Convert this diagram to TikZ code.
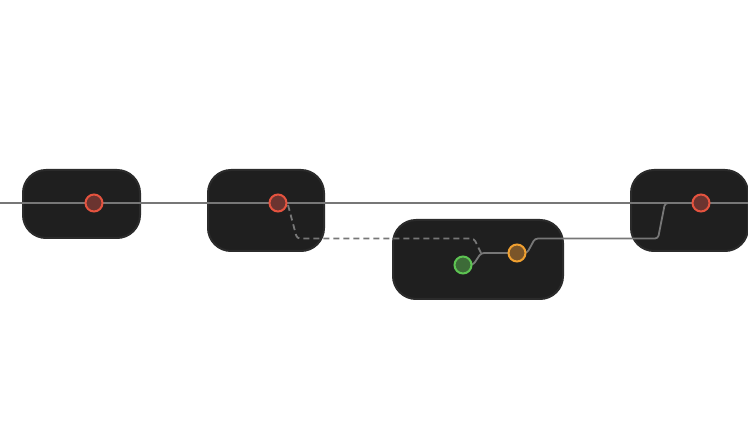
\documentclass[tikz,border=0pt]{standalone}
\pgfdeclarelayer{bg}\pgfdeclarelayer{mid}
\pgfsetlayers{bg,mid,main}
\definecolor{boxfill}{HTML}{1F1F1F}
\definecolor{boxline}{HTML}{2B2B2B}
\definecolor{wire}{HTML}{777777}
\definecolor{redS}{HTML}{E5533F}
\definecolor{redF}{HTML}{6B3430}
\definecolor{grnS}{HTML}{5DC452}
\definecolor{grnF}{HTML}{3D6B38}
\definecolor{orgS}{HTML}{F0A030}
\definecolor{orgF}{HTML}{7A5529}
\tikzset{
  panel/.style={draw=boxline, line width=2pt, fill=boxfill, rounded corners=23pt},
  dot/.style={circle, line width=2pt, minimum size=17pt, inner sep=0pt},
  reddot/.style={dot, draw=redS, fill=redF},
  grndot/.style={dot, draw=grnS, fill=grnF},
  orgdot/.style={dot, draw=orgS, fill=orgF},
  wireline/.style={draw=wire, line width=1.8pt, rounded corners=3pt},
  dashwire/.style={wireline, dash pattern=on 6pt off 4pt},
}
\begin{document}
\begin{tikzpicture}[x=1pt,y=-1pt]
\useasboundingbox (0,0) rectangle (748,430);
\begin{pgfonlayer}{bg}
\fill[white] (0,0) rectangle (748,430);
\draw[panel] (23,170) rectangle (140,238);
\draw[panel] (208,170) rectangle (324,251);
\draw[panel] (393,220) rectangle (563,299);
\draw[panel] (631,170) rectangle (748,251);
\end{pgfonlayer}
\node[reddot] (r1) at (94,203) {};
\node[reddot] (r2) at (278,203) {};
\node[reddot] (r3) at (701,203) {};
\node[grndot] (g) at (463,265) {};
\node[orgdot] (o) at (517,253) {};
\coordinate (L) at (0,203);
\coordinate (R) at (748,203);
\coordinate (j) at (481,253);
\begin{pgfonlayer}{mid}
\draw[wireline] (L) -- (R);
\draw[dashwire] (r2.center) ++(10,2) -- (297,238.5) -- (474,238.5) -- (j);
\draw[wireline] (g.center) -- ++(10,0) -- (j) -- (o.center);
\draw[wireline] (o.center) -- ++(10,0) -- (535,238.5) -- (658,238.5) -- (665,203) -- (r3.center);
\end{pgfonlayer}
\end{tikzpicture}
\end{document}
